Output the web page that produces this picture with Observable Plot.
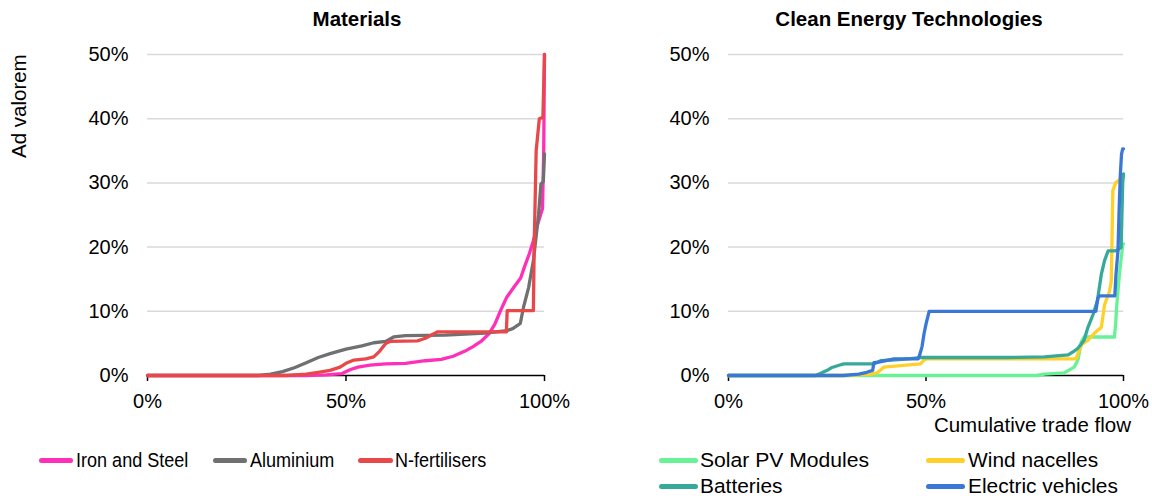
<!DOCTYPE html>
<html>
<head>
<meta charset="utf-8">
<script src="https://cdn.jsdelivr.net/npm/d3@7"></script>
<script src="https://cdn.jsdelivr.net/npm/@observablehq/plot@0.6"></script>
<style>
  html, body { margin: 0; padding: 0; background: #fff; }
  #root { position: relative; width: 1152px; height: 498px; font-family: "Liberation Sans", Arial, sans-serif; color: #000; overflow: hidden; }
  .abs { position: absolute; white-space: nowrap; line-height: 1; }
  .title { font-weight: bold; font-size: 20.5px; transform: translateX(-50%); }
  .lbl { font-size: 20.5px; }
  .sw { position: absolute; height: 5px; border-radius: 2.5px; }
  .panel { position: absolute; top: 0; }
</style>
</head>
<body>
<div id="root"></div>
<script>
// ---- Data (x = cumulative trade flow %, y = ad valorem tariff %) ----
const ironSteel = [[0,0],[40,0],[45,0.1],[49,0.3],[51,0.9],[53,1.3],[56,1.6],[60,1.8],[65,1.9],[70,2.3],[74,2.5],[77,3.0],[80,3.8],[82,4.5],[84,5.3],[86,6.5],[87.5,8],[89,10.2],[90.5,12.2],[92,13.5],[94,15.2],[95,17],[96.2,19],[97.2,21],[98,23],[99.5,26],[99.8,35],[100,50]];
const aluminium = [[0,0],[28,0],[31,0.2],[34,0.6],[37,1.2],[40,2.0],[43,2.8],[46,3.4],[50,4.1],[54,4.6],[57,5.1],[60,5.3],[62,6.0],[65,6.2],[75,6.3],[85,6.6],[90.5,7.0],[92,7.3],[93.2,7.8],[93.9,8.1],[94.7,10.6],[96,13.7],[97.2,17.9],[98.5,25],[99.1,29.8],[99.7,30.2],[100,34.5]];
const nFertilisers = [[0,0],[35,0],[40,0.2],[43,0.5],[46,0.8],[48.5,1.3],[50,1.9],[52,2.4],[55,2.6],[57,2.9],[58.5,3.8],[60,5.0],[61,5.3],[68,5.4],[70,5.8],[73,6.8],[90.4,6.8],[90.6,10.1],[97.2,10.1],[97.4,20],[97.9,35],[98.7,40],[99.6,40.2],[100,50]];

const solarPV = [[0,0],[78,0],[80,0.2],[85,0.4],[87.5,1.3],[88.5,2.5],[89.3,5.2],[90,6.0],[97.7,6.0],[98.0,8],[98.3,11],[99,16],[99.8,20.3],[100,20.5]];
const windNacelles = [[0,0],[30,0],[36,0.2],[37.6,0.4],[39.3,1.3],[45,1.6],[48.6,1.8],[49.5,2.4],[50.3,2.6],[88,2.6],[88.5,3.5],[89.5,4.9],[91,5.5],[92.5,6.5],[93.4,7.0],[94.4,7.5],[95.2,11],[96.4,13],[96.9,14.6],[97.3,28.8],[98,30],[98.6,30.3],[100,31]];
const batteries = [[0,0],[22,0],[23.2,0.3],[25,0.8],[26,1.2],[28,1.6],[29.2,1.8],[36.8,1.8],[38.5,2.3],[44,2.5],[48.6,2.8],[70,2.8],[80,2.9],[86,3.2],[87.5,3.8],[88.4,4.2],[89.3,4.9],[90,5.5],[91,7.5],[92.3,9.5],[93.4,11.7],[94.4,15.8],[95.2,17.9],[96.1,19.4],[97.8,19.4],[98.6,19.6],[99.4,20],[99.8,30],[100,31.4]];
const electricVehicles = [[0,0],[29,0],[33,0.2],[35,0.5],[36.5,0.8],[36.8,2.0],[38,2.1],[41.9,2.6],[48,2.6],[48.4,3.2],[49,4.5],[49.5,6.5],[50,8],[50.8,10],[93,10],[93.5,12],[93.9,12.4],[97.8,12.4],[98.1,15.8],[98.6,19.4],[98.9,26],[99.2,31.3],[99.5,34.5],[99.8,35.3],[100,35.3]];

const materialsSeries = ["Iron and Steel", "Aluminium", "N-fertilisers"];
const materialsColors = ["#ff30b8", "#707070", "#e8484a"];
const cleanSeries = ["Solar PV Modules", "Wind nacelles", "Batteries", "Electric vehicles"];
const cleanColors = ["#68f296", "#ffd02a", "#36a99b", "#3b78d6"];

const yTicks = [0, 10, 20, 30, 40, 50];
const xTicks = [0, 50, 100];
const pct = d => d + "%";

// ---- Build tables ----
function table(names, arrays) {
  const rows = [];
  names.forEach((n, i) => arrays[i].forEach(([x, y]) => rows.push({series: n, x, y})));
  return rows;
}
const materialsRows = table(materialsSeries, [ironSteel, aluminium, nFertilisers]);
const cleanRows = table(cleanSeries, [solarPV, windNacelles, batteries, electricVehicles]);

function panel(rows, names, colors, marginLeft, marginRight) {
  return Plot.plot({
    width: 576,
    height: 440,
    marginTop: 54,
    marginBottom: 65,
    marginLeft,
    marginRight,
    style: {fontFamily: "'Liberation Sans', Arial, sans-serif", fontSize: "20px", color: "#000", background: "transparent", overflow: "visible"},
    x: {domain: [0, 100]},
    y: {domain: [0, 50]},
    color: {domain: names, range: colors},
    marks: [
      Plot.gridY([10, 20, 30, 40, 50], {stroke: "#d9d9d9", strokeOpacity: 1, strokeWidth: 1.5}),
      Plot.axisY(yTicks, {tickSize: 0, tickPadding: 19, tickFormat: pct, label: null, fontSize: 20}),
      Plot.axisX(xTicks, {tickSize: 6, tickPadding: 12, tickFormat: pct, label: null, fontSize: 20, strokeWidth: 1.5}),
      Plot.ruleY([0], {stroke: "#000", strokeWidth: 1.5}),
      Plot.line(rows, {x: "x", y: "y", z: "series", stroke: "series", strokeWidth: 3.3, strokeLinejoin: "round", strokeLinecap: "round"})
    ]
  });
}

const root = document.getElementById("root");
function place(el, left) {
  const d = document.createElement("div");
  d.className = "panel";
  d.style.left = left + "px";
  d.appendChild(el);
  root.appendChild(d);
}
place(panel(materialsRows, materialsSeries, materialsColors, 147, 32), 0);
place(panel(cleanRows, cleanSeries, cleanColors, 152, 29), 576);

function text(str, cls, left, top, extra) {
  const d = document.createElement("div");
  d.className = "abs " + cls;
  d.textContent = str;
  d.style.left = left + "px";
  d.style.top = top + "px";
  if (extra) Object.assign(d.style, extra);
  root.appendChild(d);
  return d;
}
text("Materials", "title", 357, 9);
text("Clean Energy Technologies", "title", 909, 9);
text("Ad valorem", "lbl", 9, 158, {transformOrigin: "0 0", transform: "rotate(-90deg)"});
text("Cumulative trade flow", "lbl", 0, 414.5, {left: "auto", right: "21px"});

// ---- Legends ----
function legendItem(name, color, swLeft, swWidth, textLeft, rowY, sx) {
  const s = document.createElement("div");
  s.className = "sw";
  s.style.left = swLeft + "px";
  s.style.width = swWidth + "px";
  s.style.top = (rowY - 2.5) + "px";
  s.style.background = color;
  root.appendChild(s);
  text(name, "lbl", textLeft, rowY - 10.5, {transformOrigin: "0 50%", transform: "scaleX(" + sx + ")"});
}
legendItem(materialsSeries[0], materialsColors[0], 39, 34, 76, 460, 0.88);
legendItem(materialsSeries[1], materialsColors[1], 213, 34, 250, 460, 0.88);
legendItem(materialsSeries[2], materialsColors[2], 358, 35, 395, 460, 0.88);
legendItem(cleanSeries[0], cleanColors[0], 659, 39, 700, 460, 1.03);
legendItem(cleanSeries[1], cleanColors[1], 926, 39, 968, 460, 1.02);
legendItem(cleanSeries[2], cleanColors[2], 659, 39, 700, 486, 1.02);
legendItem(cleanSeries[3], cleanColors[3], 926, 39, 968, 486, 1.02);
</script>
</body>
</html>
